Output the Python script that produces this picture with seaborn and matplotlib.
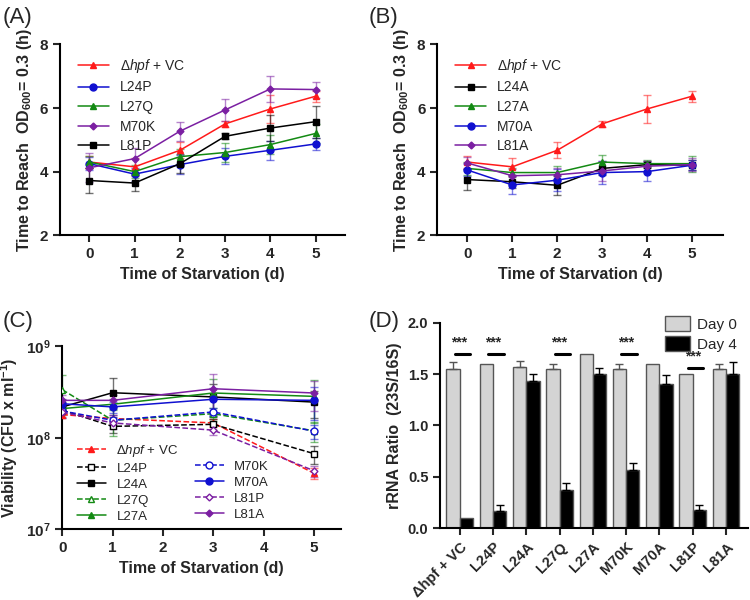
import matplotlib
matplotlib.use("Agg")
import matplotlib.pyplot as plt
from matplotlib.lines import Line2D
import numpy as np
import pandas as pd
import seaborn as sns

sns.set_style("ticks")
plt.rcParams["font.family"] = ["Liberation Sans", "DejaVu Sans"]
plt.rcParams["mathtext.fontset"] = "custom"
plt.rcParams["mathtext.default"] = "regular"
plt.rcParams["mathtext.it"] = "Liberation Sans:italic"
plt.rcParams["axes.edgecolor"] = "black"

VC = "Δ$\\mathit{hpf}$ + VC"

# ---- panel A / B : time to reach OD600 = 0.3 ----
days = [0, 1, 2, 3, 4, 5]
vc = [4.3, 4.15, 4.67, 5.5, 5.97, 6.37]
vc_err = [0.2, 0.28, 0.25, 0.1, 0.45, 0.18]

l24p = [4.25, 3.92, 4.22, 4.48, 4.67, 4.87]
l24p_err = [0.2, 0.2, 0.3, 0.25, 0.3, 0.18]
l27q = [4.3, 4.0, 4.47, 4.6, 4.85, 5.2]
l27q_err = [0.2, 0.2, 0.25, 0.3, 0.3, 0.3]
m70k = [4.12, 4.41, 5.27, 5.94, 6.6, 6.58]
m70k_err = [0.45, 0.33, 0.3, 0.35, 0.4, 0.25]
l81p = [3.72, 3.64, 4.25, 5.11, 5.37, 5.57]
l81p_err = [0.4, 0.25, 0.3, 0.1, 0.4, 0.5]

l24a = [3.75, 3.68, 3.57, 4.1, 4.22, 4.2]
l24a_err = [0.33, 0.2, 0.3, 0.2, 0.1, 0.15]
l27a = [4.1, 3.97, 3.97, 4.3, 4.25, 4.25]
l27a_err = [0.2, 0.15, 0.2, 0.22, 0.1, 0.25]
m70a = [4.05, 3.58, 3.73, 3.97, 4.0, 4.2]
m70a_err = [0.2, 0.3, 0.35, 0.35, 0.3, 0.15]
l81a = [4.27, 3.87, 3.9, 4.02, 4.17, 4.22]
l81a_err = [0.2, 0.2, 0.2, 0.3, 0.15, 0.2]

# ---- panel C : viability ----
days_c = [0, 1, 3, 5]
v_vc = [1.79e8, 1.62e8, 1.45e8, 4.1e7]
v_vc_err = [0.15e8, 0.15e8, 0.15e8, 0.6e7]
v_l24p = [2.0e8, 1.33e8, 1.4e8, 6.7e7]
v_l24p_err = [0.2e8, 0.2e8, 0.2e8, 1.5e7]
v_l24a = [2.17e8, 3.1e8, 2.79e8, 2.45e8]
v_l24a_err = [0.3e8, 1.4e8, 1.1e8, 0.8e8]
v_l27q = [3.35e8, 1.55e8, 1.83e8, 1.19e8]
v_l27q_err = [1.5e8, 0.5e8, 0.3e8, 0.3e8]
v_l27a = [2.08e8, 2.32e8, 3.08e8, 2.83e8]
v_l27a_err = [0.3e8, 0.3e8, 1.3e8, 1.4e8]
v_m70k = [1.96e8, 1.55e8, 1.91e8, 1.18e8]
v_m70k_err = [0.3e8, 0.2e8, 0.2e8, 0.2e8]
v_m70a = [2.35e8, 2.17e8, 2.63e8, 2.56e8]
v_m70a_err = [0.3e8, 0.3e8, 0.9e8, 1.0e8]
v_l81p = [1.9e8, 1.45e8, 1.21e8, 4.36e7]
v_l81p_err = [0.2e8, 0.2e8, 0.15e8, 0.6e7]
v_l81a = [2.56e8, 2.56e8, 3.43e8, 3.08e8]
v_l81a_err = [0.4e8, 0.4e8, 1.6e8, 1.1e8]

# ---- panel D : rRNA ratio ----
strains = ["Δhpf + VC", "L24P", "L24A", "L27Q", "L27A", "M70K", "M70A", "L81P", "L81A"]
day0 = [1.55, 1.6, 1.57, 1.55, 1.7, 1.55, 1.6, 1.5, 1.55]
day0_err = [0.07, 0.0, 0.06, 0.05, 0.0, 0.05, 0.0, 0.0, 0.05]
day4 = [0.1, 0.17, 1.43, 0.37, 1.5, 0.57, 1.4, 0.175, 1.5]
day4_err = [0.0, 0.055, 0.07, 0.065, 0.06, 0.065, 0.09, 0.045, 0.12]
sig_groups = [0, 1, 3, 5, 7]
sig_heights = [1.70, 1.70, 1.70, 1.70, 1.56]

RED = "#ff1a1a"
BLUE = "#1010d0"
GREEN = "#138a13"
PURPLE = "#7b1fa2"
BLACK = "black"

fig = plt.figure(figsize=(7.5, 6), dpi=100)
axA = fig.add_axes([0.08, 0.608, 0.38, 0.318])
axB = fig.add_axes([0.583, 0.608, 0.381, 0.318])
axC = fig.add_axes([0.083, 0.118, 0.371, 0.305])
axD = fig.add_axes([0.587, 0.12, 0.41, 0.342])


def series(ax, x, y, err, color, marker, label, ms=5, ls="-", open_=False):
    ax.errorbar(x, y, yerr=err, fmt="none", ecolor=color, alpha=0.55,
                capsize=3, elinewidth=1, capthick=1, zorder=1)
    sns.lineplot(x=x, y=y, ax=ax, color=color, marker=marker, markersize=ms,
                 linestyle=ls, linewidth=1.1, label=label,
                 markeredgecolor=color,
                 markerfacecolor="white" if open_ else color,
                 markeredgewidth=1, zorder=3)


def style_axes(ax, size=11):
    sns.despine(ax=ax)
    for s in ["left", "bottom"]:
        ax.spines[s].set_linewidth(1.5)
    ax.tick_params(width=1.5, length=5, labelsize=size)
    for lab in ax.get_xticklabels() + ax.get_yticklabels():
        lab.set_fontweight("bold")


ylabel_ab = "Time to Reach  OD$_{600}$= 0.3 (h)"
for ax in (axA, axB):
    series(ax, days, vc, vc_err, RED, "^", VC)
series(axA, days, l24p, l24p_err, BLUE, "o", "L24P")
series(axA, days, l27q, l27q_err, GREEN, "^", "L27Q")
series(axA, days, m70k, m70k_err, PURPLE, "D", "M70K", ms=3.5)
series(axA, days, l81p, l81p_err, BLACK, "s", "L81P")
series(axB, days, l24a, l24a_err, BLACK, "s", "L24A")
series(axB, days, l27a, l27a_err, GREEN, "^", "L27A")
series(axB, days, m70a, m70a_err, BLUE, "o", "M70A")
series(axB, days, l81a, l81a_err, PURPLE, "D", "L81A", ms=3.5)

for ax, xl in ((axA, (-0.65, 5.65)), (axB, (-0.67, 5.69))):
    ax.set_xlim(*xl)
    ax.set_ylim(2, 8)
    ax.set_xticks(days)
    ax.set_yticks([2, 4, 6, 8])
    ax.set_xlabel("Time of Starvation (d)", fontsize=11.5, fontweight="bold")
    ax.set_ylabel(ylabel_ab, fontsize=11.5, fontweight="bold")
    ax.legend(loc="upper left", frameon=False, fontsize=10,
              handlelength=2.2, labelspacing=0.4,
              bbox_to_anchor=(0.02, 1.0))
    style_axes(ax)

# panel C
series(axC, days_c, v_vc, v_vc_err, RED, "^", VC, ls="--", ms=4.5)
series(axC, days_c, v_l24p, v_l24p_err, BLACK, "s", "L24P", ls="--", open_=True)
series(axC, days_c, v_l24a, v_l24a_err, BLACK, "s", "L24A")
series(axC, days_c, v_l27q, v_l27q_err, GREEN, "^", "L27Q", ls="--", open_=True)
series(axC, days_c, v_l27a, v_l27a_err, GREEN, "^", "L27A")
series(axC, days_c, v_m70k, v_m70k_err, BLUE, "o", "M70K", ls="--", open_=True)
series(axC, days_c, v_m70a, v_m70a_err, BLUE, "o", "M70A")
series(axC, days_c, v_l81p, v_l81p_err, PURPLE, "D", "L81P", ls="--", ms=3.5, open_=True)
series(axC, days_c, v_l81a, v_l81a_err, PURPLE, "D", "L81A", ms=3.5)
axC.set_yscale("log")
axC.set_ylim(1e7, 1e9)
axC.set_xlim(0, 5.53)
axC.set_xticks(days)
axC.minorticks_off()
axC.set_xlabel("Time of Starvation (d)", fontsize=11.5, fontweight="bold")
axC.set_ylabel("Viability (CFU x ml$^{-1}$)", fontsize=11.5, fontweight="bold")
h, l = axC.get_legend_handles_labels()
blank = Line2D([], [], linestyle="none", marker="none")
h = h[:5] + [blank] + h[5:]
l = l[:5] + [""] + l[5:]
axC.legend(h, l, ncol=2, loc="lower left", bbox_to_anchor=(0.01, -0.03),
           frameon=False, fontsize=9.5, handlelength=2.2, labelspacing=0.28,
           columnspacing=1.2)
style_axes(axC)

# panel D
df = pd.DataFrame({
    "strain": strains * 2,
    "ratio": day0 + day4,
    "day": ["Day 0"] * len(strains) + ["Day 4"] * len(strains),
})
sns.barplot(data=df, x="strain", y="ratio", hue="day", ax=axD,
            palette={"Day 0": "#d4d4d4", "Day 4": "black"},
            edgecolor="#555555", linewidth=1, width=0.8, errorbar=None)
for cont, errs, col in zip(axD.containers, (day0_err, day4_err), ("#555555", "black")):
    for bar, e in zip(cont, errs):
        if e > 0:
            axD.errorbar(bar.get_x() + bar.get_width() / 2, bar.get_height(),
                         yerr=[[0], [e]], fmt="none", ecolor=col,
                         capsize=3, elinewidth=1, capthick=1)
for g, hgt in zip(sig_groups, sig_heights):
    axD.plot([g - 0.15, g + 0.32], [hgt, hgt], color="black", lw=2.2)
    axD.text(g, hgt + 0.04, "***", ha="center", va="bottom", fontsize=10,
             fontweight="bold")
axD.set_ylim(0, 2.0)
axD.set_xlim(-0.58, 8.65)
axD.set_yticks([0, 0.5, 1.0, 1.5, 2.0])
axD.set_yticklabels(["0.0", "0.5", "1.0", "1.5", "2.0"])
axD.set_xlabel("")
axD.set_ylabel("rRNA Ratio  (23S/16S)", fontsize=11.5, fontweight="bold")
axD.set_xticks(range(len(strains)))
axD.set_xticklabels(strains, rotation=45, ha="right", rotation_mode="anchor")
axD.legend(loc="upper right", bbox_to_anchor=(1.01, 1.1), frameon=False,
           fontsize=11, handlelength=1.6, handleheight=1.1,
           labelspacing=0.3, handletextpad=0.5)
style_axes(axD, size=10.5)

for txt, x, y in (("(A)", 0.003, 0.97), ("(B)", 0.492, 0.97),
                  ("(C)", 0.003, 0.465), ("(D)", 0.492, 0.465)):
    fig.text(x, y, txt, fontsize=16, ha="left", va="center")

fig.savefig("out.png", dpi=100)
